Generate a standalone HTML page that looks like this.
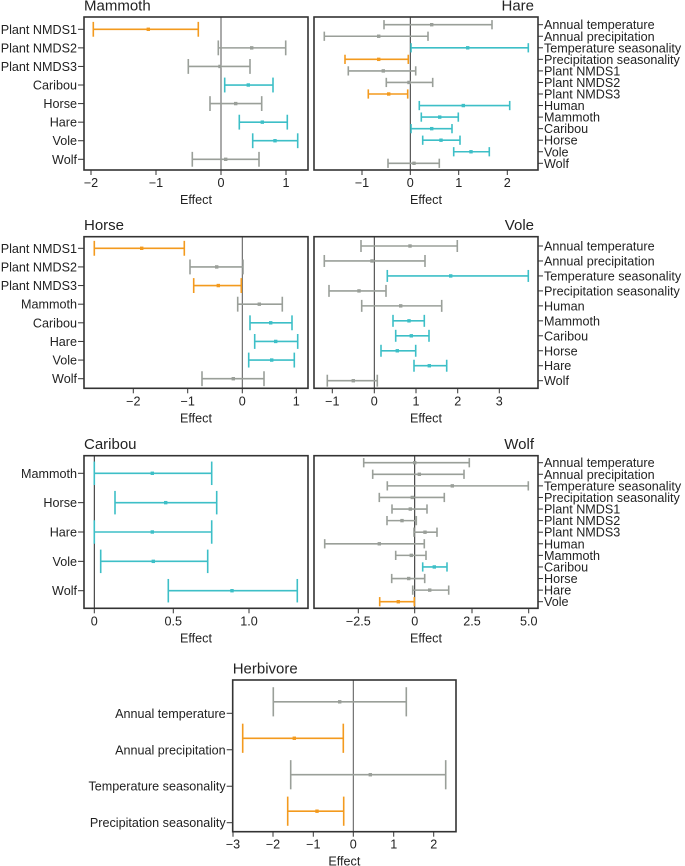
<!DOCTYPE html>
<html><head><meta charset="utf-8"><style>
html,body{margin:0;padding:0;background:#fff;}
svg{display:block;font-family:"Liberation Sans",Arial,sans-serif;}
</style></head><body>
<svg id="s" width="685" height="866" viewBox="0 0 685 866" xmlns="http://www.w3.org/2000/svg"></svg>
<script>
const O='#f39a1e',T='#3dbfc7',G='#9a9f99';
const P=[
{b:[84,17,308,170],z:221,zc:'#555',t:'Mammoth',ta:'l',side:'l',ty:[[91,'\u22122'],[156,'\u22121'],[221,'0'],[286,'1']],y0:29.3,y1:159.3,
r:[['Plant NMDS1',93.3,148.3,198.3,O],['Plant NMDS2',218.3,251.7,285.7,G],['Plant NMDS3',188.3,220,250,G],['Caribou',224.7,248.3,273,T],['Horse',210,235.7,261.7,G],['Hare',239.3,262.3,287.3,T],['Vole',252.7,275,297.7,T],['Wolf',192.3,225.7,259,G]]},
{b:[314,17,538,170],z:410.3,zc:'#333',t:'Hare',ta:'r',side:'r',ty:[[362,'\u22121'],[410.3,'0'],[458.7,'1'],[507.3,'2']],y0:24.7,y1:163.3,
r:[['Annual temperature',384,431.7,492,G],['Annual precipitation',324.3,378.7,428,G],['Temperature seasonality',411,467.7,528.3,T],['Precipitation seasonality',345,378.7,408.3,O],['Plant NMDS1',348.3,383.3,415.7,G],['Plant NMDS2',386.3,409,432.7,G],['Plant NMDS3',368.3,388.7,407.7,O],['Human',419.3,463.3,509.7,T],['Mammoth',421.3,439.7,458.3,T],['Caribou',411,431.7,452,T],['Horse',422.7,441,460,T],['Vole',453.7,471,489.3,T],['Wolf',388,414,439.3,G]]},
{b:[84,236.7,308,388.3],z:242.3,zc:'#555',t:'Horse',ta:'l',side:'l',ty:[[133.3,'\u22122'],[187.7,'\u22121'],[242.3,'0'],[296.3,'1']],y0:248.3,y1:378.7,
r:[['Plant NMDS1',94.3,141.7,184.3,O],['Plant NMDS2',190,216.7,243,G],['Plant NMDS3',193.7,218.3,241.3,O],['Mammoth',237.7,259.3,282.3,G],['Caribou',250,270.7,292,T],['Hare',254.7,275.7,297.7,T],['Vole',248.7,271.7,294.3,T],['Wolf',202,233.3,264,G]]},
{b:[314,236.7,538,388.3],z:374.3,zc:'#333',t:'Vole',ta:'r',side:'r',ty:[[332.3,'\u22121'],[374.3,'0'],[416,'1'],[457.7,'2'],[499.3,'3']],y0:246,y1:380.7,
r:[['Annual temperature',361,410,457.3,G],['Annual precipitation',324.3,372,425,G],['Temperature seasonality',387.3,450.7,528.3,T],['Precipitation seasonality',329,359,386,G],['Human',361.7,400.7,441.7,G],['Mammoth',393,409,424.3,T],['Caribou',395.7,411.3,429,T],['Horse',381,397.3,415.7,T],['Hare',414,429.3,446.7,T],['Wolf',327.3,353.3,377.3,G]]},
{b:[84,455.7,308,608.3],z:94.3,zc:'#222',t:'Caribou',ta:'l',side:'l',ty:[[94.3,'0'],[173.3,'0.5'],[249,'1.0']],y0:473.3,y1:590.7,
r:[['Mammoth',94.3,152.3,211.7,T],['Horse',115,165.7,216.7,T],['Hare',94.3,152.3,211.7,T],['Vole',100.7,153.3,207.7,T],['Wolf',168.3,232,297.3,T]]},
{b:[314,455.7,538,608.3],z:414.7,zc:'#222',t:'Wolf',ta:'r',side:'r',ty:[[358.3,'\u22122.5'],[414.7,'0'],[472,'2.5'],[528.7,'5.0']],y0:462.7,y1:601.7,
r:[['Annual temperature',363.7,414.7,469.3,G],['Annual precipitation',372.7,419.3,464,G],['Temperature seasonality',387.3,452.3,528.3,G],['Precipitation seasonality',379.3,412.3,444.3,G],['Plant NMDS1',392,410.3,427,G],['Plant NMDS2',387,402,416.3,G],['Plant NMDS3',414,425,437,G],['Human',324.7,379.3,424.3,G],['Mammoth',395.7,411.3,426,G],['Caribou',422.7,434.3,447,T],['Horse',391.7,408.7,424.7,G],['Hare',412.7,429.7,448.7,G],['Vole',379.7,398.3,414.3,O]]},
{b:[232.7,680,456,831.7],z:353.3,zc:'#555',t:'Herbivore',ta:'l',side:'l',ty:[[233,'\u22123'],[273,'\u22122'],[313.3,'\u22121'],[353.3,'0'],[393.7,'1'],[433.7,'2']],y0:713.3,y1:822.7,off:-11.5,
r:[['Annual temperature',273.3,339.7,406.3,G],['Annual precipitation',242.7,294.3,343.3,O],['Temperature seasonality',290.7,370.3,445.7,G],['Precipitation seasonality',287.7,317,343.7,O]]}
];
let h='';
for(const p of P){
 const [x0,y0,x1,y1]=p.b, n=p.r.length, sp=(p.y1-p.y0)/(n-1), cap=sp*0.4, off=p.off||0;
 h+=`<line x1="${p.z}" y1="${y0}" x2="${p.z}" y2="${y1}" stroke="${p.zc}" stroke-width="1"/>`;
 p.r.forEach((r,i)=>{
  const ly=p.y0+i*sp, y=ly+off;
  const [lab,lo,pt,hi,c]=r;
  h+=`<g stroke="${c}" stroke-width="1.6"><line x1="${lo}" y1="${y}" x2="${hi}" y2="${y}"/><line x1="${lo}" y1="${y-cap}" x2="${lo}" y2="${y+cap}"/><line x1="${hi}" y1="${y-cap}" x2="${hi}" y2="${y+cap}"/></g><rect x="${pt-1.7}" y="${y-1.7}" width="3.4" height="3.4" fill="${c}"/>`;
  if(p.side=='l'){
   h+=`<line x1="${x0-6}" y1="${ly}" x2="${x0}" y2="${ly}" stroke="#333" stroke-width="1"/><text x="${x0-7}" y="${ly+4.5}" text-anchor="end" font-size="12.6" fill="#222">${lab}</text>`;
  } else {
   h+=`<line x1="${x1}" y1="${ly}" x2="${x1+5}" y2="${ly}" stroke="#333" stroke-width="1"/><text x="${x1+6}" y="${ly+4.5}" font-size="12.6" fill="#222">${lab}</text>`;
  }
 });
 h+=`<rect x="${x0}" y="${y0}" width="${x1-x0}" height="${y1-y0}" fill="none" stroke="#333" stroke-width="1.6"/>`;
 for(const [tx,tl] of p.ty){
  h+=`<line x1="${tx}" y1="${y1}" x2="${tx}" y2="${y1+5}" stroke="#333" stroke-width="1"/><text x="${tx}" y="${y1+17}" text-anchor="middle" font-size="12.6" fill="#222">${tl}</text>`;
 }
 h+=`<text x="${(x0+x1)/2}" y="${y1+34}" text-anchor="middle" font-size="12.6" fill="#222">Effect</text>`;
 if(p.ta=='l') h+=`<text x="${x0}" y="${y0-6.5}" font-size="15" fill="#222">${p.t}</text>`;
 else h+=`<text x="${x1-4}" y="${y0-6.5}" text-anchor="end" font-size="15" fill="#222">${p.t}</text>`;
}
document.getElementById('s').innerHTML=h;
</script>
</body></html>
